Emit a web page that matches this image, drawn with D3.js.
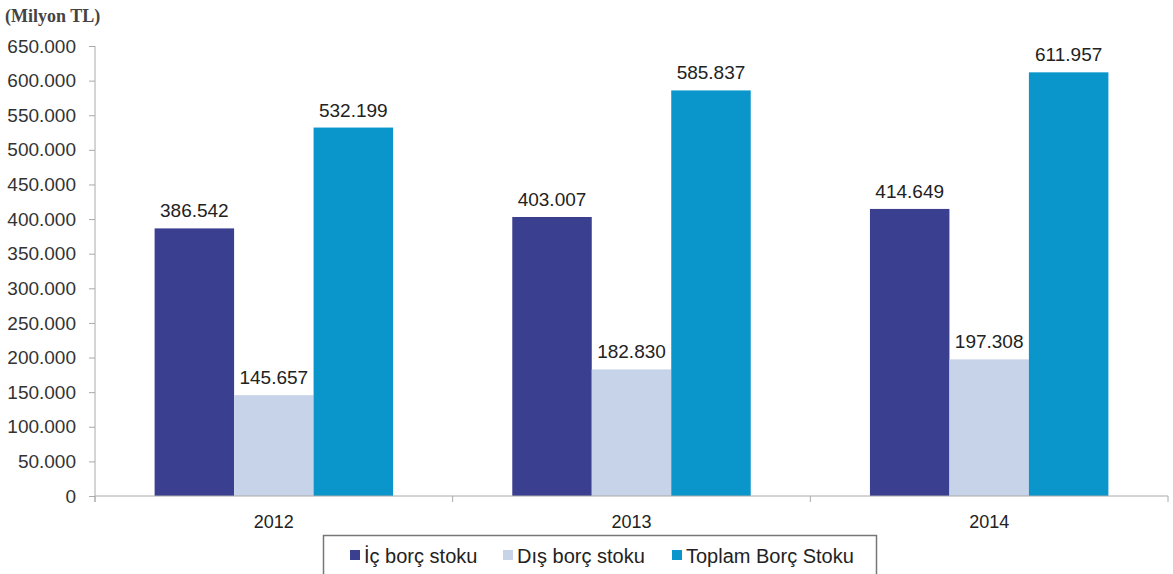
<!DOCTYPE html>
<html><head><meta charset="utf-8">
<script src="https://cdn.jsdelivr.net/npm/d3@7"></script>
<style>body{margin:0;background:#fff;} svg{display:block;}</style>
</head><body>
<svg id="chart" width="1173" height="574"></svg>
<script>
const years = ["2012", "2013", "2014"];
const seriesNames = ["İç borç stoku", "Dış borç stoku", "Toplam Borç Stoku"];
const icBorc = [386542, 403007, 414649];
const disBorc = [145657, 182830, 197308];
const toplamBorc = [532199, 585837, 611957];
const yTicks = [0, 50000, 100000, 150000, 200000, 250000, 300000, 350000, 400000, 450000, 500000, 550000, 600000, 650000];
const colors = ["#3b3f8f", "#c6d3e8", "#0a96cb"];
const seriesValues = [icBorc, disBorc, toplamBorc];

const svg = d3.select("#chart");
const pL = 95, pR = 1168, pT = 46, pB = 496;

const fmt = v => v === 0 ? "0" : d3.format(",")(v).replace(/,/g, ".");

const y = d3.scaleLinear().domain([0, 650000]).range([pB, pT]);
const x = d3.scaleBand().domain(years).range([pL, pR]).padding(0);
const bw = x.bandwidth();
const xs = d3.scaleBand().domain(d3.range(3)).range([bw / 6, bw * 5 / 6]).padding(0);

// bars
years.forEach((yr, i) => {
  const g = svg.append("g").attr("transform", `translate(${x(yr)},0)`);
  seriesValues.forEach((vals, s) => {
    g.append("rect")
      .attr("x", xs(s)).attr("width", xs.bandwidth())
      .attr("y", y(vals[i])).attr("height", pB - y(vals[i]))
      .attr("fill", colors[s]);
    g.append("text")
      .attr("x", xs(s) + xs.bandwidth() / 2)
      .attr("y", y(vals[i]) - 11)
      .attr("text-anchor", "middle")
      .attr("font-family", "Liberation Sans, Arial, sans-serif")
      .attr("font-size", 19)
      .attr("fill", "#222")
      .text(fmt(vals[i]));
  });
});

// y axis
const yAxis = d3.axisLeft(y).tickValues(yTicks).tickFormat(fmt).tickSizeOuter(0).tickSize(6).tickPadding(13);
const yg = svg.append("g").attr("transform", `translate(${pL},0)`).call(yAxis);
yg.select(".domain").attr("stroke", "#aaa").attr("d", `M0,${pT}V${pB + 6}`);
yg.selectAll(".tick line").attr("stroke", "#aaa");
yg.selectAll("text").attr("font-family", "Liberation Sans, Arial, sans-serif").attr("font-size", 19).attr("fill", "#333");

// x axis
const xg = svg.append("g");
xg.append("line").attr("x1", pL).attr("x2", pR).attr("y1", pB).attr("y2", pB).attr("stroke", "#aaa");
const bounds = years.map(yr => x(yr)).concat([x(years[years.length - 1]) + bw]);
xg.selectAll("line.b").data(bounds).enter().append("line").attr("class", "b")
  .attr("x1", d => d).attr("x2", d => d).attr("y1", pB).attr("y2", pB + 6).attr("stroke", "#aaa");
xg.selectAll("text").data(years).enter().append("text")
  .attr("x", d => x(d) + bw / 2).attr("y", 528)
  .attr("text-anchor", "middle")
  .attr("font-family", "Liberation Sans, Arial, sans-serif")
  .attr("font-size", 18).attr("fill", "#222")
  .text(d => d);

// unit label
svg.append("text").attr("x", 5).attr("y", 22)
  .attr("font-family", "Liberation Serif, Times New Roman, serif")
  .attr("font-size", 18).attr("font-weight", "bold").attr("fill", "#444")
  .text("(Milyon TL)");

// legend
const lg = svg.append("g");
lg.append("rect").attr("x", 323.5).attr("y", 535.5).attr("width", 553).attr("height", 40)
  .attr("fill", "#fff").attr("stroke", "#777").attr("stroke-width", 1.5);
const legendX = [350, 503, 672];
seriesNames.forEach((n, i) => {
  lg.append("rect").attr("x", legendX[i]).attr("y", 550).attr("width", 10).attr("height", 10).attr("fill", colors[i]);
  lg.append("text").attr("x", legendX[i] + 14).attr("y", 563)
    .attr("font-family", "Liberation Sans, Arial, sans-serif")
    .attr("font-size", 20).attr("fill", "#222").text(n);
});
</script>
</body></html>
